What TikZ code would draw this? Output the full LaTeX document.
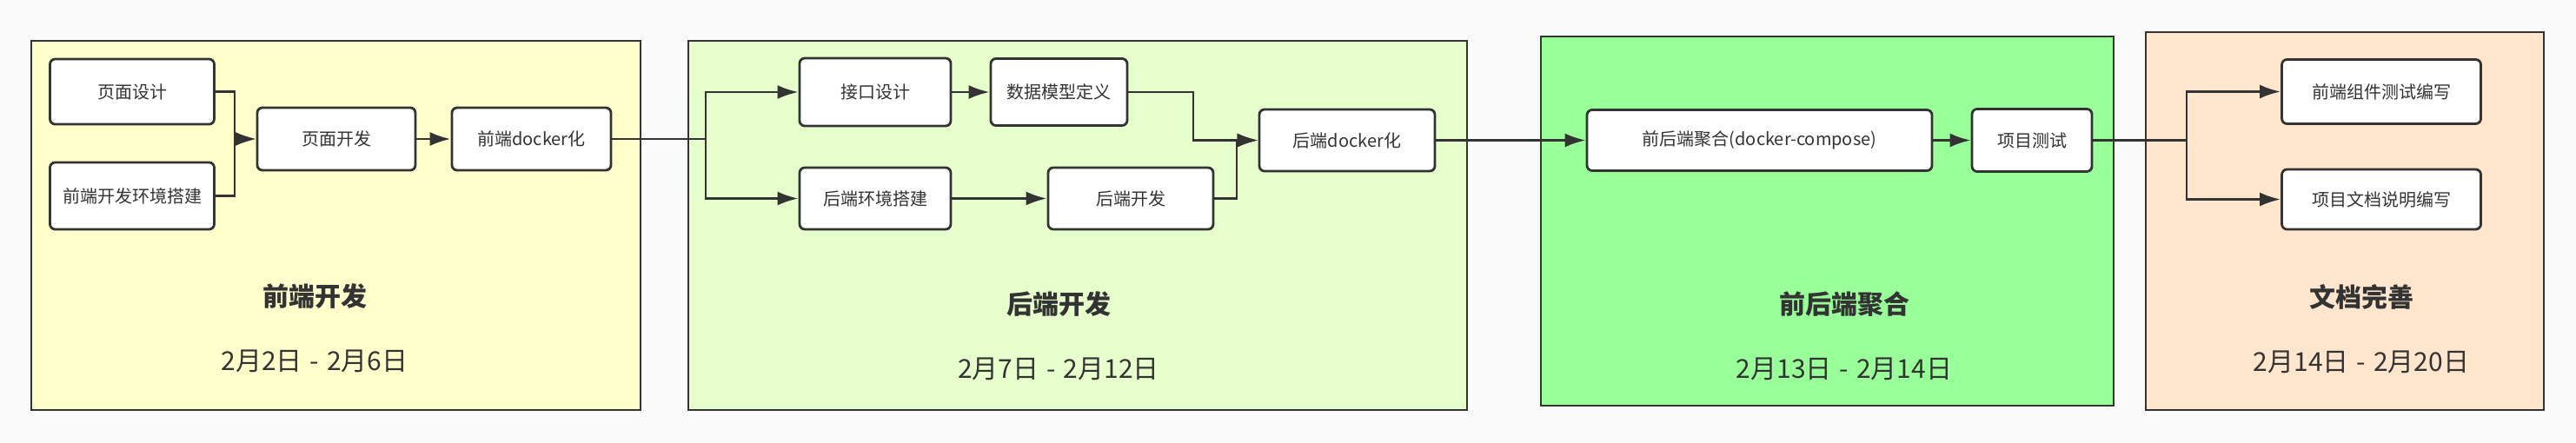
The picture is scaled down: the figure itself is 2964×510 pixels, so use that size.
\documentclass[tikz,border=0pt]{standalone}
\usepackage{fontspec}
\setmainfont{Noto Sans CJK SC}
\usetikzlibrary{arrows.meta,positioning}
\definecolor{bgcol}{HTML}{FAFAFA}
\definecolor{linecol}{HTML}{333333}
\definecolor{fecol}{HTML}{FFFFCC}
\definecolor{becol}{HTML}{E6FFCC}
\definecolor{mergecol}{HTML}{99FF99}
\definecolor{doccol}{HTML}{FFE6CC}
\newcommand{\todash}{\hspace{0.3em}-\hspace{0.3em}}

\begin{document}
\begin{tikzpicture}[
                            x=1pt, y=-1pt,
                            color=linecol,
                            line width=2.8pt,
                            >={Latex[length=24pt,width=16pt]},
                            frame/.style={rectangle, draw, inner sep=0pt},
                            box/.style={rectangle, draw, fill=white, rounded corners=6pt, inner sep=0pt,
                                        font=\fontsize{20pt}{24pt}\selectfont},
                            title/.style={font=\fontsize{30pt}{36pt}\selectfont\bfseries},
                            date/.style={font=\fontsize{30pt}{36pt}\selectfont}
                        ]
                        \useasboundingbox (0,0) rectangle (2964,510);
                        \fill[bgcol] (0,0) rectangle (2964,510);

                        % Frames
                        \node [frame, fill=fecol, minimum width=701pt, minimum height=425pt] (fefr) at (386.5,259.5) {};
                        \node [frame, fill=becol, minimum width=896pt, minimum height=425pt] (befr) at (1240,259.5) {};
                        \node [frame, fill=mergecol, minimum width=659pt, minimum height=425pt] (mgfr) at (2102.5,254.5) {};
                        \node [frame, fill=doccol, minimum width=458pt, minimum height=435pt] (docfr) at (2698,254.5) {};

                        % Blocks
                        \node [box, minimum width=189pt, minimum height=75pt] (design) at (152,105.5) {页面设计};
                        \node [box, minimum width=189pt, minimum height=77pt, below of=design, node distance=120pt] (feenv) {前端开发环境搭建};
                        \node [box, minimum width=182pt, minimum height=72pt] (page) at (387,160) {页面开发};
                        \node [box, minimum width=183pt, minimum height=72pt, right of=page, node distance=224.5pt] (fedocker) {前端docker化};

                        \node [box, minimum width=174pt, minimum height=78pt] (api) at (1007,106) {接口设计};
                        \node [box, minimum width=157pt, minimum height=77pt, right of=api, node distance=211.5pt] (model) {数据模型定义};
                        \node [box, minimum width=174pt, minimum height=71pt, below of=api, node distance=122.5pt] (beenv) {后端环境搭建};
                        \node [box, minimum width=190pt, minimum height=71pt, right of=beenv, node distance=294pt] (bedev) {后端开发};
                        \node [box, minimum width=202pt, minimum height=71pt] (bedocker) at (1550,161.5) {后端docker化};

                        \node [box, minimum width=397pt, minimum height=70pt, right of=bedocker, node distance=474.5pt] (compose) {前后端聚合(docker-compose)};
                        \node [box, minimum width=138pt, minimum height=72pt, right of=compose, node distance=313.5pt] (test) {项目测试};

                        \node [box, minimum width=229pt, minimum height=74pt] (fetest) at (2740,105.5) {前端组件测试编写};
                        \node [box, minimum width=229pt, minimum height=69pt, below of=fetest, node distance=124pt] (docs) {项目文档说明编写};

                        % Titles
                        \node [title] (fetitle) at (362,341) {前端开发};
                        \node [date, below of=fetitle, node distance=75pt] (fedate) {2月2日\todash 2月6日};
                        \node [title] (betitle) at (1218,350) {后端开发};
                        \node [date, below of=betitle, node distance=75pt] (bedate) {2月7日\todash 2月12日};
                        \node [title] (mgtitle) at (2122,350) {前后端聚合};
                        \node [date, below of=mgtitle, node distance=75pt] (mgdate) {2月13日\todash 2月14日};
                        \node [title] (doctitle) at (2717,342) {文档完善};
                        \node [date, below of=doctitle, node distance=75pt] (docdate) {2月14日\todash 2月20日};

                        % Connections
                        \coordinate (fejoin) at (270,160);
                        \draw [->] (design.east) -| (fejoin) -- (page.west);
                        \draw [->] (feenv.east) -| (fejoin) -- (page.west);
                        \draw [->] (page) -- (fedocker);

                        \coordinate (besplit) at (812,160);
                        \draw (fedocker.east) -- (besplit);
                        \draw [->] (besplit) |- (api.west);
                        \draw [->] (besplit) |- (beenv.west);
                        \draw [->] (api) -- (model);
                        \draw [->] (beenv) -- (bedev);
                        \coordinate (bejoin1) at (1373,161.5);
                        \coordinate (bejoin2) at (1423,161.5);
                        \draw [->] (model.east) -| (bejoin1) -- (bedocker.west);
                        \draw [->] (bedev.east) -| (bejoin2) -- (bedocker.west);

                        \draw [->] (bedocker) -- (compose);
                        \draw [->] (compose) -- (test);

                        \coordinate (docsplit) at (2516,161.5);
                        \draw (test.east) -- (docsplit);
                        \draw [->] (docsplit) |- (fetest.west);
                        \draw [->] (docsplit) |- (docs.west);
                    \end{tikzpicture}
\end{document}
